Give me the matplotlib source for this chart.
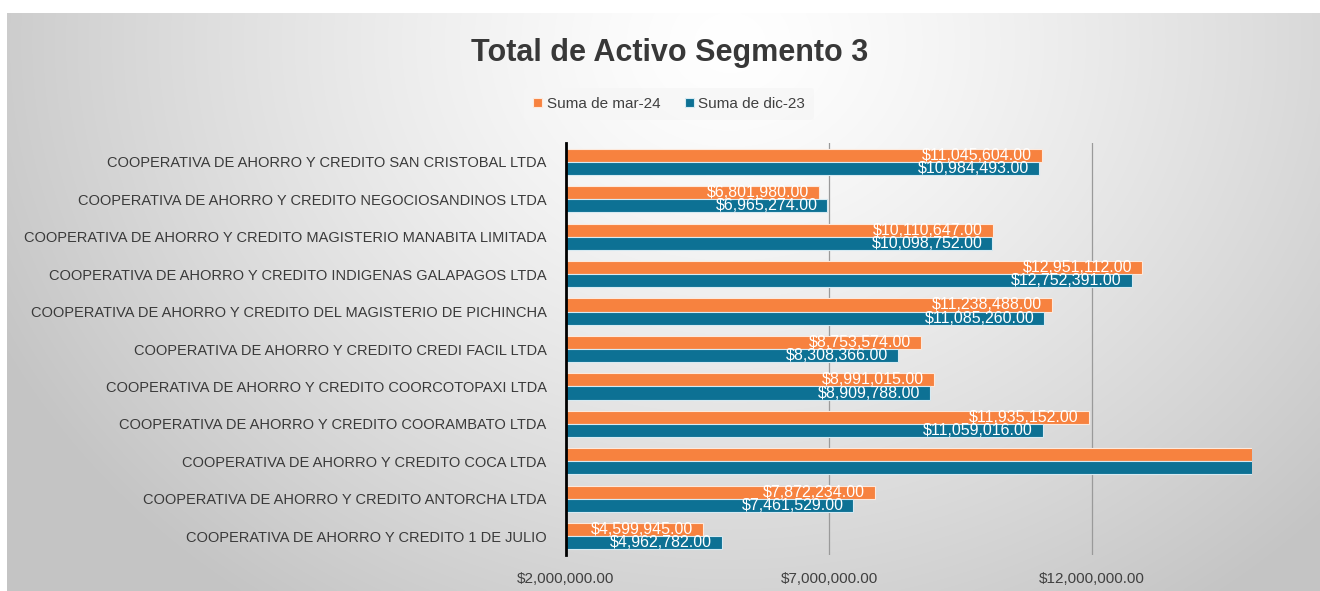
import matplotlib
matplotlib.use("Agg")
import matplotlib.pyplot as plt
import numpy as np
from matplotlib.ticker import FuncFormatter

categories = [
    "COOPERATIVA DE AHORRO Y CREDITO 1 DE JULIO",
    "COOPERATIVA DE AHORRO Y CREDITO ANTORCHA LTDA",
    "COOPERATIVA DE AHORRO Y CREDITO COCA LTDA",
    "COOPERATIVA DE AHORRO Y CREDITO COORAMBATO LTDA",
    "COOPERATIVA DE AHORRO Y CREDITO COORCOTOPAXI LTDA",
    "COOPERATIVA DE AHORRO Y CREDITO CREDI FACIL LTDA",
    "COOPERATIVA DE AHORRO Y CREDITO DEL MAGISTERIO DE PICHINCHA",
    "COOPERATIVA DE AHORRO Y CREDITO INDIGENAS GALAPAGOS LTDA",
    "COOPERATIVA DE AHORRO Y CREDITO MAGISTERIO MANABITA LIMITADA",
    "COOPERATIVA DE AHORRO Y CREDITO NEGOCIOSANDINOS LTDA",
    "COOPERATIVA DE AHORRO Y CREDITO SAN CRISTOBAL LTDA",
]
mar24 = [4599945, 7872234, 16500000, 11935152, 8991015, 8753574,
         11238488, 12951112, 10110647, 6801980, 11045604]
dic23 = [4962782, 7461529, 16400000, 11059016, 8909788, 8308366,
         11085260, 12752391, 10098752, 6965274, 10984493]
series_names = ["Suma de mar-24", "Suma de dic-23"]
xticks = [2000000, 7000000, 12000000]
x_min, x_max = 2000000, 15040000

orange = "#F7823F"
teal = "#0D7194"
FONT = "Liberation Sans"

W, H = 1320, 591
fig = plt.figure(figsize=(W / 100, H / 100), dpi=100)
fig.patch.set_facecolor("white")

# background gradient panel
bg = fig.add_axes([7 / W, 0, 1 - 7 / W, (H - 13) / H])
bg.set_axis_off()
ny, nx = 300, 660
yy, xx = np.mgrid[0:ny, 0:nx]
cx, cy = 0.55 * nx, 0.05 * ny
d = np.sqrt(((xx - cx) / (0.62 * nx)) ** 2 + ((yy - cy) / (1.2 * ny)) ** 2)
d = np.clip(d, 0, 1)
val = 1.0 - 0.23 * d ** 1.3
img = np.dstack([val, val, val])
bg.imshow(img, aspect="auto", extent=[0, 1, 0, 1], interpolation="bilinear")
bg.set_xlim(0, 1)
bg.set_ylim(0, 1)

ax = fig.add_axes([566 / W, 1 - 555 / H, (1252 - 566) / W, (555 - 143) / H])
ax.set_facecolor("none")
y = np.arange(len(categories))
h = 0.35
b1 = ax.barh(y + h / 2, np.array(mar24) - x_min, left=x_min, height=h,
             color=orange, edgecolor="#FDE9DC", linewidth=0.8, label=series_names[0], zorder=3)
b2 = ax.barh(y - h / 2, np.array(dic23) - x_min, left=x_min, height=h,
             color=teal, edgecolor="#D6EAF2", linewidth=0.8, label=series_names[1], zorder=3)

for vals, yo in ((mar24, h / 2), (dic23, -h / 2)):
    for yi, v in zip(y, vals):
        if v <= x_max:
            ax.annotate(f"${v:,.2f}", xy=(v, yi + yo), xytext=(-7, 0),
                        textcoords="offset points", ha="right", va="center",
                        color="white", fontsize=11.5, family=FONT, zorder=4)

ax.set_xlim(x_min, x_max)
ax.set_ylim(-0.5, len(categories) - 0.5)
ax.set_xticks(xticks)
ax.xaxis.set_major_formatter(FuncFormatter(lambda v, p: f"${v:,.2f}"))
ax.set_yticks(y)
ax.set_yticklabels(categories, fontsize=10.5, family=FONT, color="#3a3a3a")
for lbl in ax.get_xticklabels():
    lbl.set_family(FONT)
    lbl.set_fontsize(11)
    lbl.set_color("#404040")
ax.tick_params(axis="both", length=0)
ax.tick_params(axis="x", pad=12)
ax.tick_params(axis="y", pad=14)
ax.grid(axis="x", color="#9a9a9a", linewidth=0.9, zorder=0)
for s in ("top", "right", "bottom"):
    ax.spines[s].set_visible(False)
ax.spines["left"].set_color("black")
ax.spines["left"].set_linewidth(2)
ax.spines["left"].set_zorder(5)

fig.text(670 / W, 1 - 53 / H, "Total de Activo Segmento 3", ha="center", va="center",
         fontsize=22, fontweight="bold", family=FONT, color="#383838")

leg = fig.legend(handles=[b1, b2], labels=series_names, loc="center",
                 bbox_to_anchor=(669 / W, 1 - 104 / H), ncol=2, frameon=True,
                 prop={"family": FONT, "size": 11},
                 handlelength=0.6, handleheight=0.6, handletextpad=0.3, columnspacing=1.6,
                 borderpad=0.6, borderaxespad=0)
leg.get_frame().set_facecolor("#f6f6f6")
leg.get_frame().set_edgecolor("none")
leg.get_frame().set_alpha(0.8)
for t in leg.get_texts():
    t.set_color("#404040")

fig.savefig("out.png", dpi=100)
